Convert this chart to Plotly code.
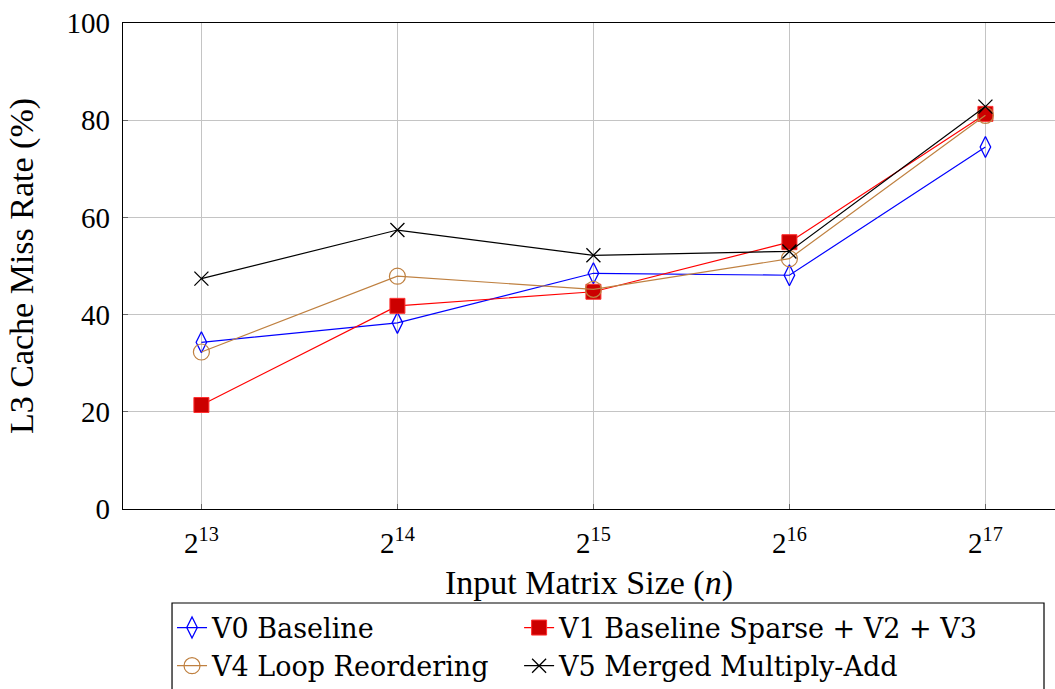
import plotly.graph_objects as go

sizes = [13, 14, 15, 16, 17]
tick_labels = ["2<sup>13</sup>", "2<sup>14</sup>", "2<sup>15</sup>", "2<sup>16</sup>", "2<sup>17</sup>"]

v0_baseline = [34.3, 38.3, 48.5, 48.1, 74.5]
v1_sparse = [21.4, 41.8, 44.7, 54.9, 81.3]
v4_reorder = [32.3, 47.9, 45.2, 51.5, 81.0]
v5_merged = [47.4, 57.4, 52.2, 53.0, 82.8]

FONT = "Liberation Serif"

fig = go.Figure()
fig.add_trace(go.Scatter(
    x=sizes, y=v0_baseline, mode="lines+markers", name="V0 Baseline", legend="legend",
    line=dict(color="#0000ff", width=1.2),
    marker=dict(symbol="diamond-tall-open", size=15, color="#0000ff", line=dict(width=1.3)),
))
fig.add_trace(go.Scatter(
    x=sizes, y=v1_sparse, mode="lines+markers", name="V1 Baseline Sparse + V2 + V3", legend="legend2",
    line=dict(color="#ff0000", width=1.2),
    marker=dict(symbol="square", size=15, color="#cc0000", line=dict(color="#ff3030", width=1)),
))
fig.add_trace(go.Scatter(
    x=sizes, y=v4_reorder, mode="lines+markers", name="V4 Loop Reordering", legend="legend",
    line=dict(color="#bf8040", width=1.2),
    marker=dict(symbol="circle-open", size=16, color="#bf8040", line=dict(width=1.2)),
))
fig.add_trace(go.Scatter(
    x=sizes, y=v5_merged, mode="lines+markers", name="V5 Merged Multiply-Add", legend="legend2",
    line=dict(color="#000000", width=1.2),
    marker=dict(symbol="x-thin-open", size=14, color="#000000", line=dict(width=1.3)),
))

legend_common = dict(
    orientation="v", y=-0.1945, xanchor="left", yanchor="top",
    borderwidth=0, bgcolor="rgba(0,0,0,0)", tracegroupgap=0,
    font=dict(family="DejaVu Serif", size=27, color="black"),
)

fig.update_layout(
    width=1055, height=689,
    margin=dict(l=123, r=0, t=23, b=180, autoexpand=False),
    paper_bgcolor="white", plot_bgcolor="white",
    font=dict(family=FONT, size=28, color="black"),
    showlegend=True,
    legend=dict(x=0.0526, **legend_common),
    legend2=dict(x=0.425, **legend_common),
    shapes=[dict(
        type="rect", xref="paper", yref="paper",
        x0=0.0526, x1=0.9882, y0=-0.1934, y1=-0.40,
        line=dict(color="black", width=1.2), fillcolor="rgba(0,0,0,0)", layer="below",
    )],
)
fig.update_xaxes(
    range=[12.6, 17.355], tickvals=sizes, ticktext=tick_labels,
    showgrid=True, gridcolor="#c4c4c4", gridwidth=1,
    showline=True, linecolor="black", linewidth=1.2, mirror=True,
    ticks="inside", ticklen=5, tickcolor="#666666",
    zeroline=False, ticklabelstandoff=8,
    title=dict(text="Input Matrix Size (<i>n</i>)", standoff=12),
    tickfont=dict(size=29),
)
fig.update_yaxes(
    range=[0, 100], tickvals=[0, 20, 40, 60, 80, 100],
    showgrid=True, gridcolor="#c4c4c4", gridwidth=1,
    showline=True, linecolor="black", linewidth=1.2, mirror=False,
    ticks="inside", ticklen=5, tickcolor="#666666",
    zeroline=False, ticklabelstandoff=6,
    title=dict(text="L3 Cache Miss Rate (%)", standoff=22),
    tickfont=dict(size=29),
)

fig.write_html("out.html")
